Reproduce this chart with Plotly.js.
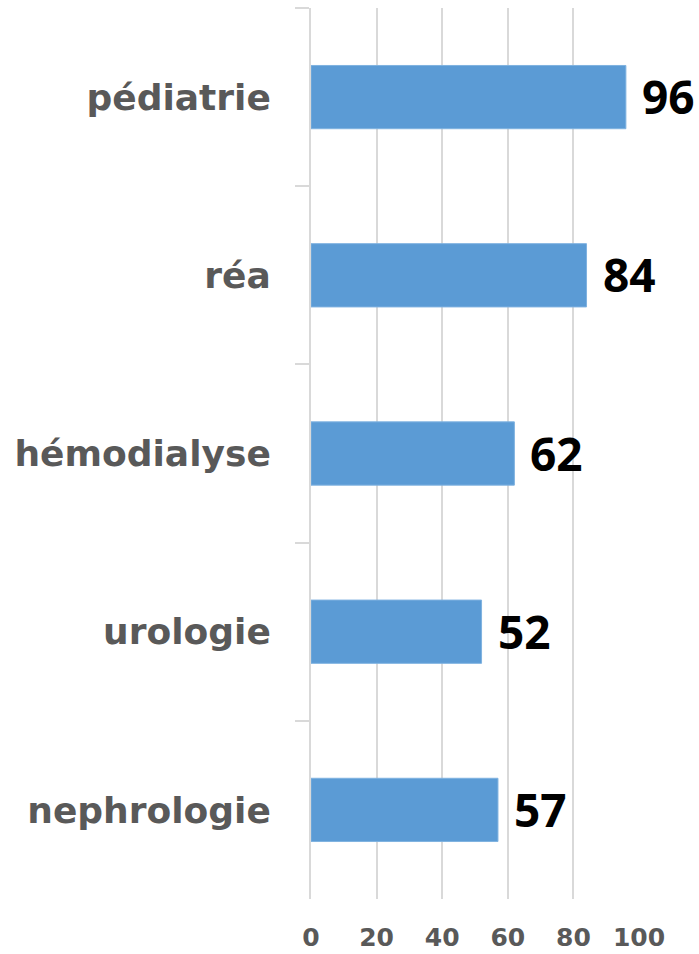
<!DOCTYPE html>
<html>
<head>
<meta charset="utf-8">
<script src="https://cdn.plot.ly/plotly-3.0.1.min.js"></script>
<style>html,body{margin:0;padding:0;background:#fff;}#chart{width:699px;height:954px;}</style>
</head>
<body>
<div id="chart"></div>
<script>
const categories = ["pédiatrie", "réa", "hémodialyse", "urologie", "nephrologie"];
const values = [96, 84, 62, 52, 57];
const xTicks = [0, 20, 40, 60, 80, 100];

const trace = {
  type: "bar",
  orientation: "h",
  y: categories,
  x: values,
  marker: {color: "#5b9bd5", line: {color: "#7fb2e0", width: 1}},
  width: 0.355,
  hoverinfo: "none"
};

const annotations = categories.map((c, i) => ({
  x: values[i], y: c, xref: "x", yref: "y",
  text: String(values[i]), showarrow: false,
  xanchor: "left", yanchor: "middle", xshift: 14, yshift: 1,
  font: {family: "Open Sans, Liberation Sans, sans-serif", size: 46, color: "#000", weight: 700}
}));

const layout = {
  width: 699, height: 954,
  margin: {l: 311, r: 60, t: 8, b: 55},
  paper_bgcolor: "#fff", plot_bgcolor: "#fff",
  showlegend: false,
  xaxis: {
    range: [0, 100],
    tickvals: xTicks,
    ticktext: xTicks.map(String),
    showgrid: true, gridcolor: "#d9d9d9", gridwidth: 2,
    zeroline: false, showline: false, ticks: "",
    ticklabelstandoff: 21,
    tickfont: {family: "DejaVu Sans", size: 25, color: "#595959", weight: 700},
    fixedrange: true
  },
  yaxis: {
    type: "category",
    categoryorder: "array", categoryarray: categories,
    autorange: "reversed",
    showline: true, linecolor: "#d9d9d9", linewidth: 2,
    ticks: "outside", tickson: "boundaries", ticklen: 14, tickwidth: 2, tickcolor: "#d9d9d9",
    ticklabelstandoff: 31,
    showgrid: false, zeroline: false,
    tickfont: {family: "DejaVu Sans", size: 36, color: "#595959", weight: 700},
    fixedrange: true
  },
  annotations: annotations
};

Plotly.newPlot("chart", [trace], layout, {displayModeBar: false, staticPlot: true});
</script>
</body>
</html>
